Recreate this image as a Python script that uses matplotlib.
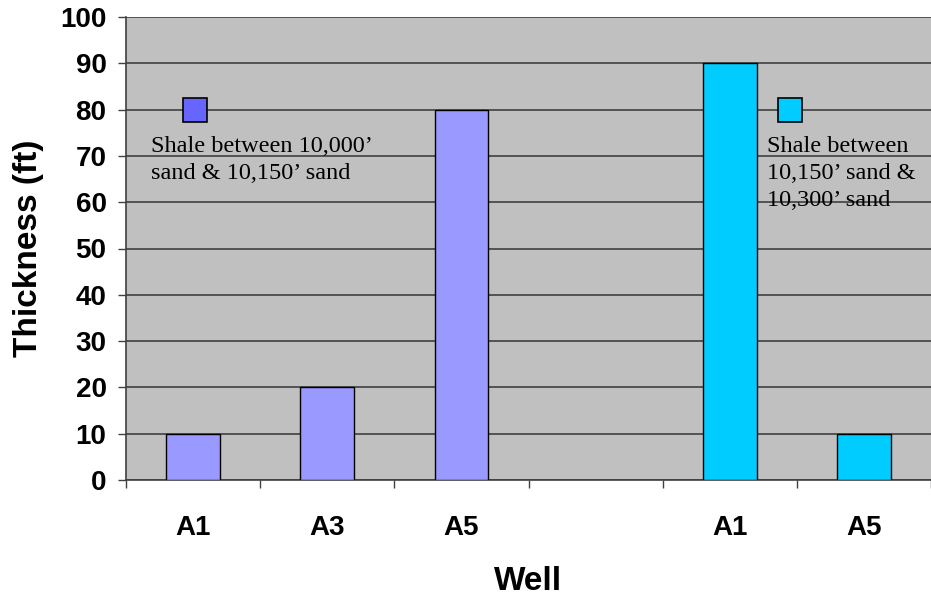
import matplotlib.pyplot as plt
import numpy as np

# well thickness data, two shale intervals side by side with an empty slot between
wells = ['A1', 'A3', 'A5', '', 'A1', 'A5']
thick_upper = [10, 20, 80]      # shale between 10,000' and 10,150' sand
thick_lower = [90, 10]          # shale between 10,150' and 10,300' sand
upper_pos = [0, 1, 2]
lower_pos = [4, 5]

upper_label = "Shale between 10,000’\nsand & 10,150’ sand"
lower_label = "Shale between\n10,150’ sand &\n10,300’ sand"

fig = plt.figure(figsize=(9.31, 5.97), dpi=100)
ax = fig.add_axes([126/931, 117/597, 805/931, 463/597])
ax.set_facecolor('#c0c0c0')

ax.bar(upper_pos, thick_upper, width=0.4, color='#9999ff', edgecolor='black', linewidth=1, zorder=3)
ax.bar(lower_pos, thick_lower, width=0.4, color='#00ccff', edgecolor='black', linewidth=1, zorder=3)

ax.set_xlim(-0.5, 5.5)
ax.set_ylim(0, 100)
ax.set_yticks(np.arange(0, 101, 10))
ax.yaxis.grid(True, color='#404040', linewidth=1.2, zorder=1)
ax.set_axisbelow(True)

# category labels centred, boundary ticks as minor
ax.set_xticks(range(len(wells)))
ax.set_xticklabels(wells)
ax.set_xticks(np.arange(-0.5, 5.6, 1), minor=True)
ax.tick_params(axis='x', which='major', length=0, pad=25)
ax.tick_params(axis='x', which='minor', length=6, width=1, color='#404040', direction='out')
ax.tick_params(axis='y', length=6, width=1, color='#404040', pad=8)

for lbl in ax.get_xticklabels() + ax.get_yticklabels():
    lbl.set_fontfamily('Liberation Sans')
    lbl.set_fontweight('bold')
    lbl.set_fontsize(20)

for s in ['top', 'right']:
    ax.spines[s].set_visible(False)
for s in ['left', 'bottom']:
    ax.spines[s].set_color('#404040')
    ax.spines[s].set_linewidth(1.2)

ax.set_xlabel('Well', fontfamily='Liberation Sans', fontweight='bold', fontsize=24, labelpad=18)
ax.set_ylabel('Thickness (ft)', fontfamily='Liberation Sans', fontweight='bold', fontsize=24, labelpad=12)

# legend-like markers and notes inside the plot
ax.plot([0.015], [80], marker='s', markersize=17, markerfacecolor='#6666ff',
        markeredgecolor='black', markeredgewidth=1.2, linestyle='none', zorder=4, clip_on=False)
ax.plot([4.45], [80], marker='s', markersize=17, markerfacecolor='#00ccff',
        markeredgecolor='black', markeredgewidth=1.2, linestyle='none', zorder=4, clip_on=False)
ax.text(-0.313, 74.2, upper_label, fontfamily='Liberation Serif', fontsize=17.5,
        va='top', ha='left', linespacing=1.37, zorder=5)
ax.text(4.276, 74.2, lower_label, fontfamily='Liberation Serif', fontsize=17.5,
        va='top', ha='left', linespacing=1.37, zorder=5)

fig.savefig('out.png', dpi=100)
